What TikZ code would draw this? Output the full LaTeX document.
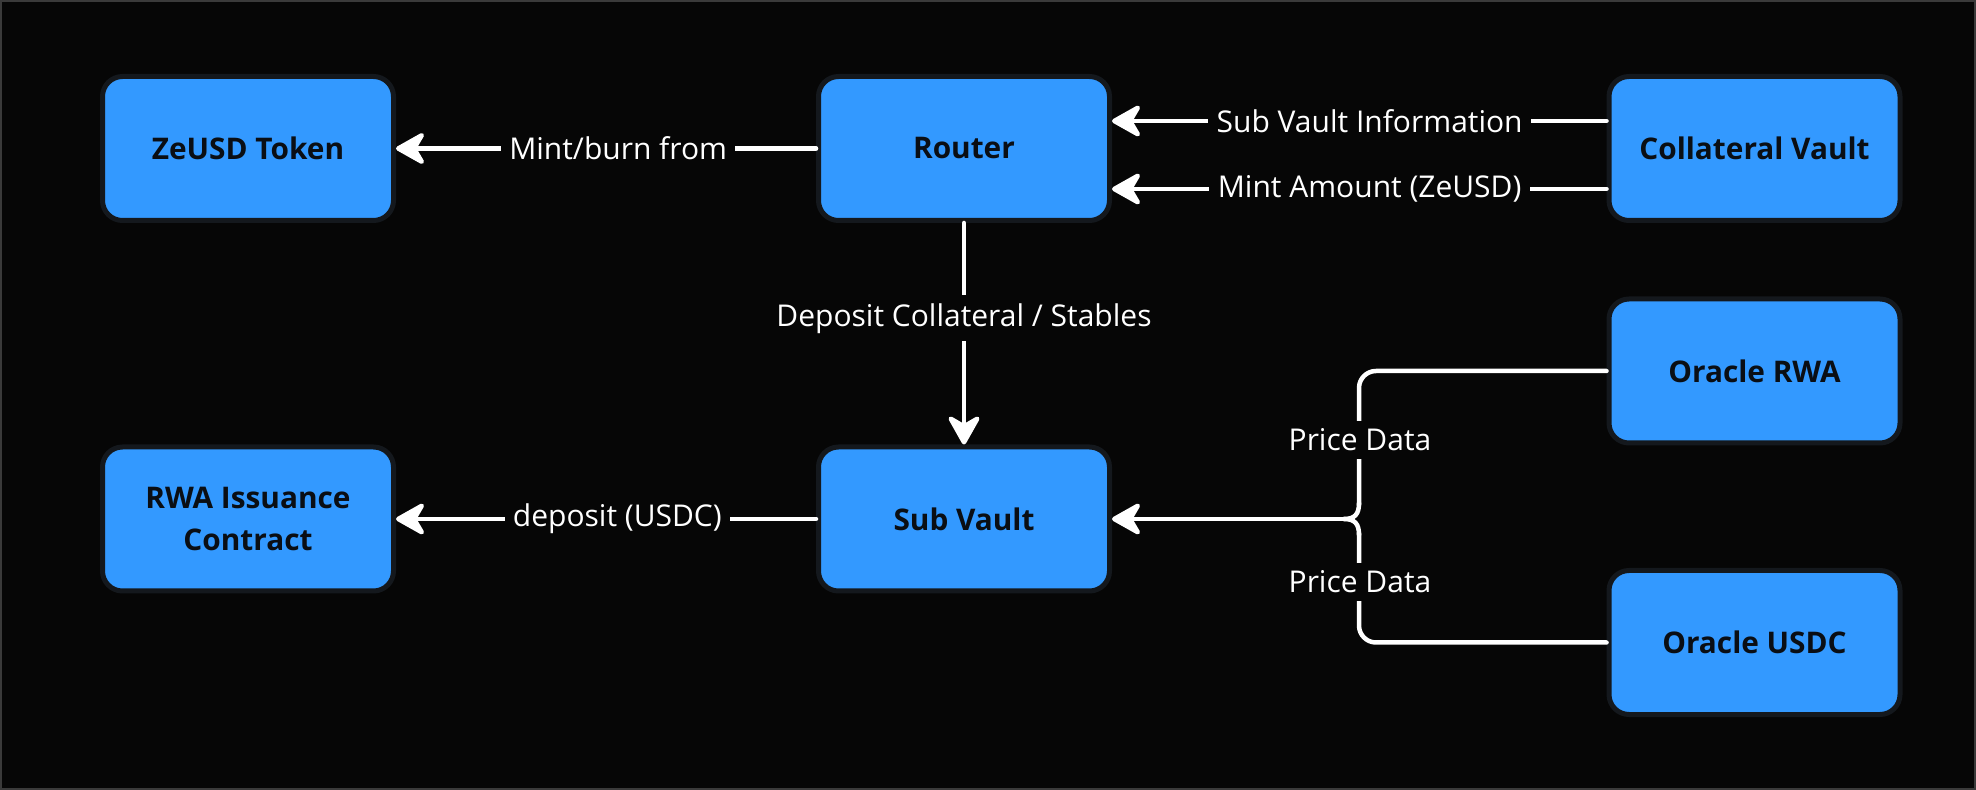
\documentclass[tikz,border=0pt]{standalone}
\usepackage{fontspec}
\setmainfont{Open Sans}
\usetikzlibrary{arrows.meta}
\definecolor{bg}{HTML}{060606}
\definecolor{boxblue}{HTML}{3399FF}
\definecolor{boxedge}{HTML}{14181D}
\definecolor{boxtext}{HTML}{0A0E14}
\definecolor{framegray}{HTML}{3A3A3A}
\begin{document}
\begin{tikzpicture}[x=0.5pt,y=-0.5pt,
  box/.style={draw=boxedge, line width=2.5pt, fill=boxblue, rounded corners=10pt,
    minimum width=145.5pt, minimum height=72pt,
    font=\bfseries\fontsize{14.9}{21}\selectfont, text=boxtext, align=center, inner sep=0pt},
  wire/.style={draw=white, line width=2.25pt, line cap=round},
  arr/.style={wire, -{Stealth[length=17pt,width=19pt,inset=5.5pt,round]}},
  lbl/.style={fill=bg, text=white, font=\fontsize{15}{18}\selectfont, inner xsep=4.2pt, inner ysep=4pt}
]
\fill[bg] (0,0) rectangle (1976,790);
\draw[framegray, line width=1pt] (1,1) rectangle (1975,789);
\useasboundingbox (0,0) rectangle (1976,790);

\node[box] (zeusd) at (248,148.5) {ZeUSD Token};
\node[box] (router) at (964,148.5) {Router};
\node[box] (coll) at (1754.5,148.5) {Collateral Vault};
\node[box] (rwa) at (248,519) {RWA Issuance\\Contract};
\node[box] (sub) at (964,519) {Sub Vault};
\node[box] (orwa) at (1754.5,371) {Oracle RWA};
\node[box] (ousdc) at (1754.5,642.5) {Oracle USDC};

\coordinate (ya) at (0,121);
\coordinate (yb) at (0,189);
\coordinate (bx) at (1359,519);
\coordinate (brace) at (1344,519);

\draw[arr] (router.west) -- node[lbl,pos=0.471]{Mint/burn from} (zeusd.east);
\draw[arr] (coll.west|-ya) -- node[lbl,pos=0.479]{Sub Vault Information} (router.east|-ya);
\draw[arr] (coll.west|-yb) -- node[lbl,pos=0.479]{Mint Amount (ZeUSD)} (router.east|-yb);
\draw[arr] (router.south) -- node[lbl,pos=0.43]{Deposit Collateral / Stables} (sub.north);
\draw[arr] (sub.west) -- node[lbl,pos=0.473]{deposit (USDC)} (rwa.east);

\draw[wire, rounded corners=8.5pt] (orwa.west) -- (bx|-orwa.west) -- (1359,505);
\draw[wire, rounded corners=8.5pt] (ousdc.west) -- (bx|-ousdc.west) -- (1359,533);
\draw[wire] (1359,503) .. controls (1359,514) and (1355,519) .. (brace);
\draw[wire] (1359,535) .. controls (1359,524) and (1355,519) .. (brace);
\draw[arr] (brace) -- (sub.east);

\node[lbl] (pd1) at (1360,440) {Price Data};
\node[lbl] (pd2) at (1360,582) {Price Data};
\end{tikzpicture}
\end{document}
